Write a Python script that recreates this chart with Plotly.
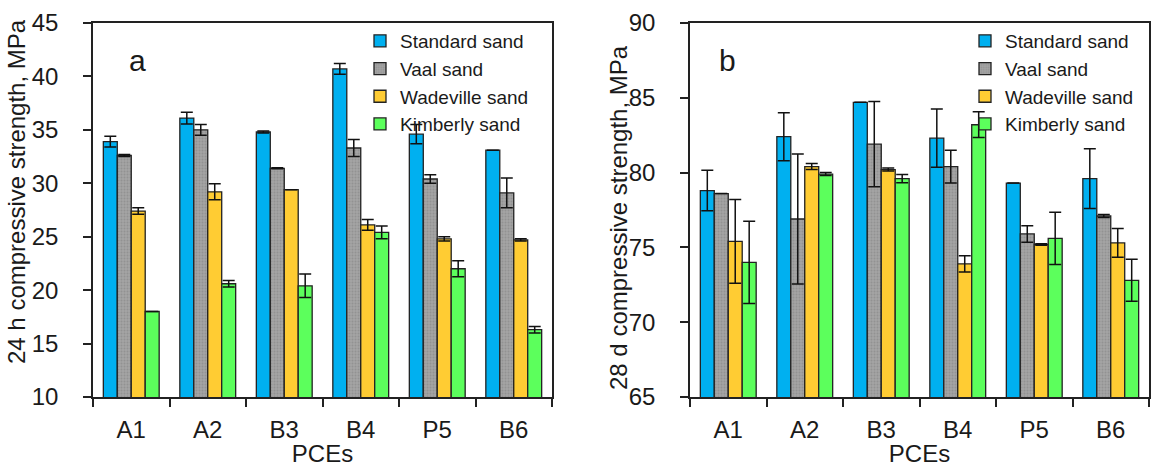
import plotly.graph_objects as go

categories = ["A1", "A2", "B3", "B4", "P5", "B6"]
series_names = ["Standard sand", "Vaal sand", "Wadeville sand", "Kimberly sand"]

# 24 h compressive strength (MPa)
h24_standard = [33.9, 36.1, 34.8, 40.7, 34.6, 33.1]
h24_vaal = [32.6, 35.0, 31.4, 33.3, 30.4, 29.1]
h24_wadeville = [27.4, 29.2, 29.4, 26.1, 24.8, 24.7]
h24_kimberly = [18.0, 20.6, 20.4, 25.4, 22.0, 16.3]
h24_standard_err = [0.5, 0.55, 0.1, 0.5, 0.9, 0.0]
h24_vaal_err = [0.1, 0.5, 0.05, 0.8, 0.4, 1.4]
h24_wadeville_err = [0.3, 0.75, 0.0, 0.5, 0.2, 0.1]
h24_kimberly_err = [0.0, 0.3, 1.1, 0.6, 0.75, 0.3]

# 28 d compressive strength (MPa)
d28_standard = [78.8, 82.4, 84.7, 82.3, 79.3, 79.6]
d28_vaal = [78.6, 76.9, 81.9, 80.4, 75.9, 77.1]
d28_wadeville = [75.4, 80.4, 80.2, 73.9, 75.2, 75.3]
d28_kimberly = [74.0, 79.9, 79.6, 83.2, 75.6, 72.8]
d28_standard_err = [1.35, 1.6, 0.0, 1.95, 0.0, 2.0]
d28_vaal_err = [0.0, 4.35, 2.85, 1.1, 0.55, 0.1]
d28_wadeville_err = [2.8, 0.2, 0.1, 0.55, 0.05, 0.96]
d28_kimberly_err = [2.75, 0.1, 0.28, 0.86, 1.75, 1.4]

y_title_left = "24 h compressive strength, MPa"
y_title_right = "28 d compressive strength, MPa"
x_title = "PCEs"

colors = ["#00B0F0", "#A0A0A0", "#FFCC33", "#5CFF5C"]

FONT = "Arial, Liberation Sans, sans-serif"

fig = go.Figure()

left_vals = [h24_standard, h24_vaal, h24_wadeville, h24_kimberly]
left_errs = [h24_standard_err, h24_vaal_err, h24_wadeville_err, h24_kimberly_err]
right_vals = [d28_standard, d28_vaal, d28_wadeville, d28_kimberly]
right_errs = [d28_standard_err, d28_vaal_err, d28_wadeville_err, d28_kimberly_err]


def marker_for(i):
    m = dict(color=colors[i], line=dict(color="#222222", width=1.3))
    if i == 1:
        m["pattern"] = dict(shape=".", fgcolor="#808080", bgcolor="#a4a4a4",
                            size=3, solidity=0.35)
    return m


for i, name in enumerate(series_names):
    fig.add_trace(go.Bar(
        x=categories, y=left_vals[i], name=name, marker=marker_for(i),
        error_y=dict(type="data", array=left_errs[i], color="#111111", thickness=1.5, width=6),
        xaxis="x", yaxis="y", legend="legend",
    ))
for i, name in enumerate(series_names):
    fig.add_trace(go.Bar(
        x=categories, y=right_vals[i], name=name, marker=marker_for(i),
        error_y=dict(type="data", array=right_errs[i], color="#111111", thickness=1.5, width=6),
        xaxis="x2", yaxis="y2", legend="legend2",
    ))

axis_common = dict(
    showline=True, linecolor="#222222", linewidth=1.5, mirror=True,
    ticks="outside", ticklen=8, tickwidth=1.5, tickcolor="#222222",
    showgrid=False, zeroline=False, automargin=False,
    tickfont=dict(family=FONT, size=24, color="#1a1a1a"),
)

ydom = [1 - 397 / 467, 1 - 23 / 467]

fig.update_layout(
    width=1152, height=467,
    margin=dict(l=0, r=0, t=0, b=0, autoexpand=False),
    paper_bgcolor="white", plot_bgcolor="white",
    barmode="group", bargap=0.27, bargroupgap=0.0,
    font=dict(family=FONT, size=24, color="#1a1a1a"),
    xaxis=dict(domain=[93 / 1152, 552 / 1152], anchor="y", type="category",
               tickson="boundaries", ticklabelstandoff=10,
               title=dict(text=x_title, standoff=2, font=dict(family=FONT, size=24)),
               **axis_common),
    yaxis=dict(domain=ydom, anchor="x", range=[10, 45], dtick=5, ticklabelstandoff=20,
               **axis_common),
    xaxis2=dict(domain=[690 / 1152, 1149 / 1152], anchor="y2", type="category",
                tickson="boundaries", ticklabelstandoff=10,
                title=dict(text=x_title, standoff=2, font=dict(family=FONT, size=24)),
                **axis_common),
    yaxis2=dict(domain=ydom, anchor="x2", range=[65, 90], dtick=5, ticklabelstandoff=20,
                **axis_common),
    legend=dict(x=360 / 1152, y=1 - 22 / 467, xanchor="left", yanchor="top",
                bgcolor="rgba(255,255,255,0)", font=dict(family=FONT, size=19),
                tracegroupgap=0, itemwidth=30),
    legend2=dict(x=965 / 1152, y=1 - 22 / 467, xanchor="left", yanchor="top",
                 bgcolor="rgba(255,255,255,0)", font=dict(family=FONT, size=19),
                 tracegroupgap=0, itemwidth=30),
    annotations=[
        dict(text="a", x=137 / 1152, y=1 - 61 / 467, xref="paper", yref="paper",
             xanchor="center", yanchor="middle",
             showarrow=False, font=dict(family=FONT, size=30, color="#1a1a1a")),
        dict(text="b", x=727 / 1152, y=1 - 61 / 467, xref="paper", yref="paper",
             xanchor="center", yanchor="middle",
             showarrow=False, font=dict(family=FONT, size=30, color="#1a1a1a")),
        dict(text=y_title_left, x=16 / 1152, y=1 - 192 / 467, xref="paper", yref="paper",
             xanchor="center", yanchor="middle", textangle=-90,
             showarrow=False, font=dict(family=FONT, size=24, color="#1a1a1a")),
        dict(text=y_title_right, x=618 / 1152, y=1 - 218 / 467, xref="paper", yref="paper",
             xanchor="center", yanchor="middle", textangle=-90,
             showarrow=False, font=dict(family=FONT, size=24, color="#1a1a1a")),
    ],
)

fig.write_html("out.html", config={"displayModeBar": False},
               post_script="document.body.style.margin='0px';document.body.style.padding='0px';")
